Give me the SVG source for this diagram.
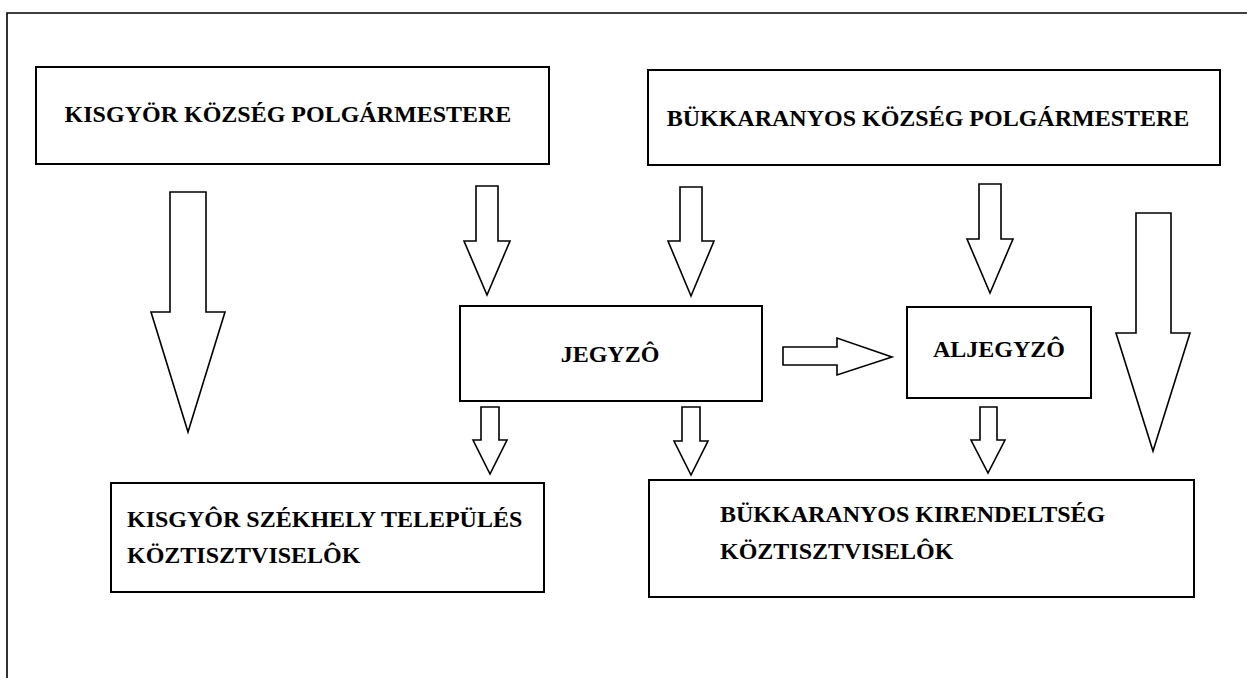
<svg xmlns="http://www.w3.org/2000/svg" width="1247" height="678" viewBox="0 0 1247 678">
<style>
.box{fill:#fff;stroke:#000;stroke-width:2}
.arr{fill:#fff;stroke:#000;stroke-width:1.6;stroke-linejoin:miter}
text{font-family:'Liberation Serif','DejaVu Serif',serif;font-weight:bold;font-size:24px;fill:#000}
</style>
<rect x="0" y="0" width="1247" height="678" fill="#fff"/>
<path d="M7,678 V13 H1247" fill="none" stroke="#000" stroke-width="1.6"/>
<g id="connectors">
<polygon class="arr" points="170,192 206,192 206,312 225,312 188,432 151,312 170,312"/>
<polygon class="arr" points="476,186 498,186 498,241 510,241 487,295 464,241 476,241"/>
<polygon class="arr" points="680,187 702,187 702,241 714,241 691,296 668,241 680,241"/>
<polygon class="arr" points="979,184 1001,184 1001,239 1013,239 990,293 967,239 979,239"/>
<polygon class="arr" points="1136,213 1171,213 1171,333 1190,333 1153,451 1116,333 1136,333"/>
<polygon class="arr" points="481,407 499,407 499,440 507,440 490,474 473,440 481,440"/>
<polygon class="arr" points="682,407 700,407 700,441 708,441 691,475 674,441 682,441"/>
<polygon class="arr" points="980,407 997,407 997,440 1005,440 988,473 971,440 980,440"/>
<polygon class="arr" points="783,347 837,347 837,338 892,357 837,375 837,365 783,365"/>
</g>
<g id="kisgyor-polgarmester">
<rect class="box" x="36" y="67" width="513" height="97"/>
<text font-family="Liberation Serif, serif" x="288" y="122" text-anchor="middle">KISGYÖR KÖZSÉG POLGÁRMESTERE</text>
</g>
<g id="bukkaranyos-polgarmester">
<rect class="box" x="648" y="70" width="572" height="95"/>
<text font-family="Liberation Serif, serif" x="928" y="126" text-anchor="middle">BÜKKARANYOS KÖZSÉG POLGÁRMESTERE</text>
</g>
<g id="jegyzo">
<rect class="box" x="460" y="306" width="302" height="95"/>
<text font-family="Liberation Serif, serif" x="610" y="362" text-anchor="middle">JEGYZÔ</text>
</g>
<g id="aljegyzo">
<rect class="box" x="907" y="307" width="184" height="91"/>
<text font-family="Liberation Serif, serif" x="999" y="357" text-anchor="middle">ALJEGYZÔ</text>
</g>
<g id="kisgyor-koztisztviselok">
<rect class="box" x="111" y="483" width="433" height="109"/>
<text font-family="Liberation Serif, serif" x="127" y="527">KISGYÔR SZÉKHELY TELEPÜLÉS</text>
<text font-family="Liberation Serif, serif" x="127" y="563">KÖZTISZTVISELÔK</text>
</g>
<g id="bukkaranyos-koztisztviselok">
<rect class="box" x="649" y="480" width="545" height="117"/>
<text font-family="Liberation Serif, serif" x="720" y="522">BÜKKARANYOS KIRENDELTSÉG</text>
<text font-family="Liberation Serif, serif" x="720" y="559">KÖZTISZTVISELÔK</text>
</g>
</svg>
